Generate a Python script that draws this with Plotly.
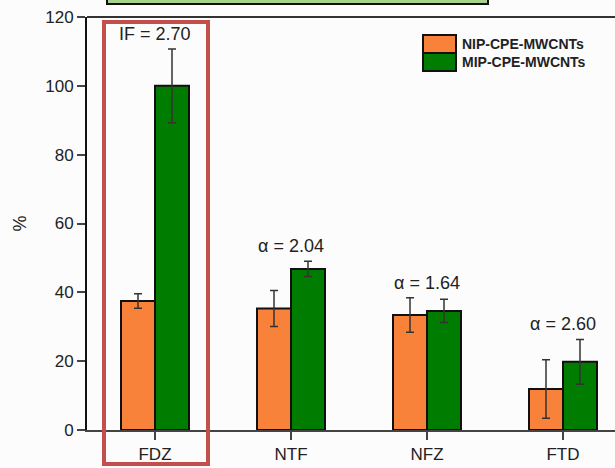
import plotly.graph_objects as go

categories = ["FDZ", "NTF", "NFZ", "FTD"]
nip_values = [37.5, 35.3, 33.4, 11.9]
nip_errors = [2.1, 5.2, 5.0, 8.5]
mip_values = [100.0, 46.8, 34.6, 19.8]
mip_errors = [10.7, 2.2, 3.4, 6.5]
series_names = ["NIP-CPE-MWCNTs", "MIP-CPE-MWCNTs"]
factor_labels = ["IF = 2.70", "α = 2.04", "α = 1.64", "α = 2.60"]
y_ticks = [0, 20, 40, 60, 80, 100, 120]

ORANGE = "#F9823A"
GREEN = "#007D00"
FONT = "Liberation Sans, Arial, sans-serif"

FIG_W = 700
PLOT_W = float(FIG_W - 87)  # plot area runs well past the 615 px window


def px_to_paper_x(px):
    return (px - 87) / PLOT_W


def px_to_paper_y(py):
    return (430 - py) / 413.0


fig = go.Figure()
for name, vals, errs, col in [(series_names[0], nip_values, nip_errors, ORANGE),
                              (series_names[1], mip_values, mip_errors, GREEN)]:
    fig.add_trace(go.Bar(
        x=categories, y=vals, name=name,
        marker=dict(color=col, line=dict(color="#111111", width=2)),
        error_y=dict(type="data", array=errs, visible=True,
                     color="#333333", thickness=1.5, width=4),
        showlegend=False,
    ))

# factor annotations above each group
for cat, lab, v1, e1, v2, e2 in zip(categories, factor_labels, nip_values, nip_errors,
                                    mip_values, mip_errors):
    top = max(v1 + e1, v2 + e2)
    fig.add_annotation(x=cat, y=top, text=lab, showarrow=False, yanchor="bottom",
                       yshift=3, font=dict(family=FONT, size=18, color="#222222"))

# manual legend
leg_rows = [(35, 53), (53, 71)]
for (ya, yb), name, col in zip(leg_rows, series_names, [ORANGE, GREEN]):
    fig.add_shape(type="rect", xref="paper", yref="paper",
                  x0=px_to_paper_x(423), x1=px_to_paper_x(456),
                  y0=px_to_paper_y(yb), y1=px_to_paper_y(ya),
                  fillcolor=col, line=dict(color="#111111", width=2))
    fig.add_annotation(xref="paper", yref="paper", x=px_to_paper_x(460),
                       y=px_to_paper_y((ya + yb) / 2),
                       text="<b>" + name + "</b>", showarrow=False, xanchor="left",
                       yanchor="middle", font=dict(family=FONT, size=14, color="#222222"))

# top frame line
fig.add_shape(type="line", xref="paper", yref="paper", x0=0, x1=1, y0=1, y1=1,
              line=dict(color="#333333", width=2))

# red highlight frame around first group
fig.add_shape(type="rect", xref="paper", yref="paper",
              x0=px_to_paper_x(104), x1=px_to_paper_x(208),
              y0=px_to_paper_y(464), y1=px_to_paper_y(22),
              line=dict(color="#C24F4C", width=4), fillcolor="rgba(0,0,0,0)")

# green header box at top (cut off)
fig.add_shape(type="rect", xref="paper", yref="paper",
              x0=px_to_paper_x(107), x1=px_to_paper_x(488),
              y0=px_to_paper_y(4), y1=px_to_paper_y(-10),
              fillcolor="#A9D18E", line=dict(color="#111111", width=2))

fig.update_layout(
    width=FIG_W, height=468,
    margin=dict(l=87, r=0, t=17, b=38),
    paper_bgcolor="#FCFCFC", plot_bgcolor="#FCFCFC",
    barmode="group", bargap=0.5, bargroupgap=0,
    font=dict(family=FONT, size=17, color="#222222"),
    xaxis=dict(range=[-0.5, -0.5 + PLOT_W / 136.0], showgrid=False, zeroline=False,
               showline=True, linecolor="#444444", linewidth=2, mirror=False,
               ticks="outside", ticklen=8, tickwidth=1.5, tickcolor="#444444",
               tickfont=dict(size=17)),
    yaxis=dict(range=[0, 120], tickvals=y_ticks, showgrid=False, zeroline=False,
               showline=True, linecolor="#111111", linewidth=2,
               ticks="outside", ticklen=8, tickwidth=1.5, tickcolor="#444444",
               tickfont=dict(size=17), title=dict(text="%", standoff=14,
                                                   font=dict(size=18))),
)

fig.write_html("out.html", config={"displayModeBar": False},
               post_script="document.body.style.margin='0';document.body.style.overflow='hidden';"
                           "document.documentElement.style.overflow='hidden';")
